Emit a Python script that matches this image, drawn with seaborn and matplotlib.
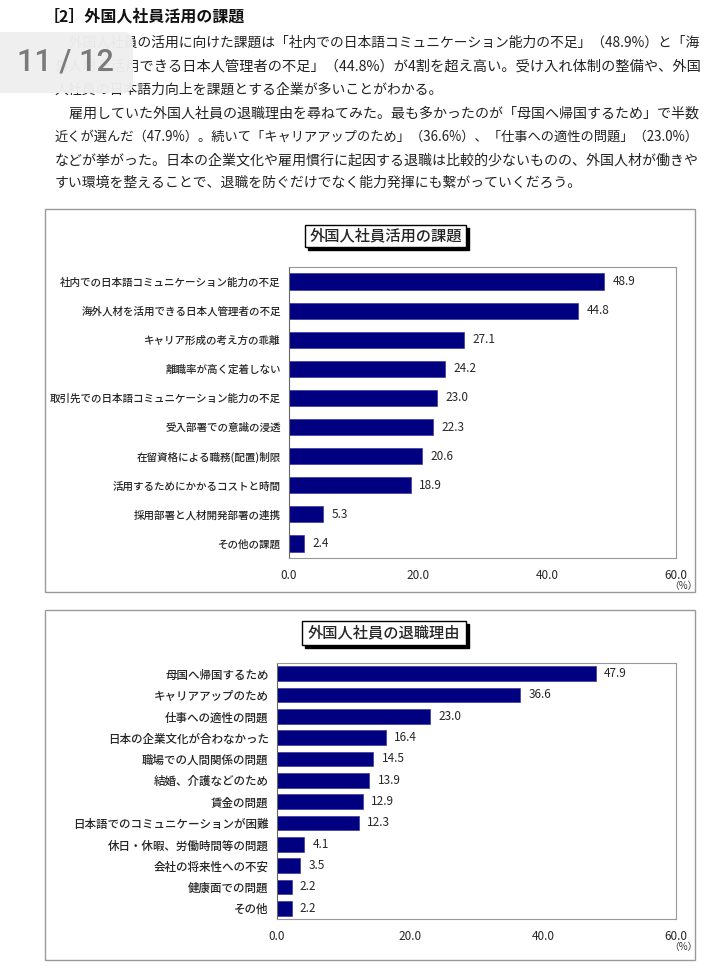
import matplotlib
matplotlib.use("Agg")
import matplotlib.pyplot as plt
import seaborn as sns
import pandas as pd
from matplotlib.patches import Rectangle, FancyBboxPatch

sns.set_theme(style="white")
FONT = ['Noto Sans CJK JP', 'DejaVu Sans']
plt.rcParams['font.family'] = FONT

# ---------------- data ----------------
heading = "［2］外国人社員活用の課題"
para_lines = [
    "　外国人社員の活用に向けた課題は「社内での日本語コミュニケーション能力の不足」（48.9%）と「海",
    "外人材を活用できる日本人管理者の不足」（44.8%）が4割を超え高い。受け入れ体制の整備や、外国",
    "人社員の日本語力向上を課題とする企業が多いことがわかる。",
    "　雇用していた外国人社員の退職理由を尋ねてみた。最も多かったのが「母国へ帰国するため」で半数",
    "近くが選んだ（47.9%）。続いて「キャリアアップのため」（36.6%）、「仕事への適性の問題」（23.0%）",
    "などが挙がった。日本の企業文化や雇用慣行に起因する退職は比較的少ないものの、外国人材が働きや",
    "すい環境を整えることで、退職を防ぐだけでなく能力発揮にも繋がっていくだろう。",
]
full_line = [True, True, False, True, True, True, False]
page_badge = "11 / 12"

title1 = "外国人社員活用の課題"
cats1 = ["社内での日本語コミュニケーション能力の不足", "海外人材を活用できる日本人管理者の不足",
         "キャリア形成の考え方の乖離", "離職率が高く定着しない",
         "取引先での日本語コミュニケーション能力の不足", "受入部署での意識の浸透",
         "在留資格による職務(配置)制限", "活用するためにかかるコストと時間",
         "採用部署と人材開発部署の連携", "その他の課題"]
vals1 = [48.9, 44.8, 27.1, 24.2, 23.0, 22.3, 20.6, 18.9, 5.3, 2.4]

title2 = "外国人社員の退職理由"
cats2 = ["母国へ帰国するため", "キャリアアップのため", "仕事への適性の問題",
         "日本の企業文化が合わなかった", "職場での人間関係の問題", "結婚、介護などのため",
         "賃金の問題", "日本語でのコミュニケーションが困難", "休日・休暇、労働時間等の問題",
         "会社の将来性への不安", "健康面での問題", "その他"]
vals2 = [47.9, 36.6, 23.0, 16.4, 14.5, 13.9, 12.9, 12.3, 4.1, 3.5, 2.2, 2.2]

xticks = [0, 20, 40, 60]
xticklabels = ["0.0", "20.0", "40.0", "60.0"]
unit = "（%）"

W, H = 720, 968
fig = plt.figure(figsize=(W / 100, H / 100), dpi=100)
fig.patch.set_facecolor("white")
renderer = fig.canvas.get_renderer()


def fx(x):
    return x / W


def fy(y):
    return 1 - y / H


# ---------------- page text ----------------
fig.text(fx(44), fy(17), heading, fontsize=11.5, fontweight="bold", va="center", ha="left",
         family=FONT, color="#111111")
line_y = [43, 66.5, 90, 113.5, 137, 160, 183]
TARGET_W = 642
base_fs = 10.4
texts = []
sizes = []
for ly, t, full in zip(line_y, para_lines, full_line):
    tt = fig.text(fx(55), fy(ly), t, fontsize=base_fs, va="center", ha="left",
                  color="#222222", family=FONT, zorder=1)
    if full:
        w = tt.get_window_extent(renderer).width
        fs = base_fs * TARGET_W / w
        tt.set_fontsize(fs)
        sizes.append(fs)
    texts.append((tt, full))
avg_fs = sum(sizes) / len(sizes)
for tt, full in texts:
    if not full:
        tt.set_fontsize(avg_fs)

# page badge overlay
badge = FancyBboxPatch((fx(-20), fy(93)), fx(153), 61 / H,
                       boxstyle="round,pad=0,rounding_size=0.012",
                       transform=fig.transFigure, facecolor="#efefef", edgecolor="none",
                       alpha=0.97, zorder=5)
fig.patches.append(badge)
fig.text(fx(65), fy(62), page_badge, fontsize=22, color="#7a7a7a", ha="center", va="center",
         zorder=6, family=['Roboto', 'DejaVu Sans'], fontweight="medium")


def chart(box, plot, tbox, cats, vals, title, label_fs, bar_w):
    # outer frame
    x0, y0, x1, y1 = box
    fig.patches.append(Rectangle((fx(x0), fy(y1)), fx(x1 - x0), (y1 - y0) / H,
                                 transform=fig.transFigure, facecolor="white",
                                 edgecolor="#9a9a9a", linewidth=1.0, zorder=0.2))
    # title box with shadow
    tx0, ty0, tx1, ty1 = tbox
    fig.patches.append(Rectangle((fx(tx0 + 3), fy(ty1 + 3)), fx(tx1 - tx0), (ty1 - ty0) / H,
                                 transform=fig.transFigure, facecolor="black",
                                 edgecolor="black", linewidth=1, zorder=2))
    fig.patches.append(Rectangle((fx(tx0), fy(ty1)), fx(tx1 - tx0), (ty1 - ty0) / H,
                                 transform=fig.transFigure, facecolor="white",
                                 edgecolor="black", linewidth=1, zorder=2.1))
    fig.text(fx((tx0 + tx1) / 2), fy((ty0 + ty1) / 2), title, fontsize=11,
             ha="center", va="center", zorder=2.2, family=FONT, fontweight="medium")

    px0, py0, px1, py1 = plot
    ax = fig.add_axes([fx(px0), fy(py1), fx(px1 - px0), (py1 - py0) / H])
    ax.set_zorder(1)
    df = pd.DataFrame({"cat": cats, "val": vals})
    sns.barplot(data=df, x="val", y="cat", orient="h", color="#000080",
                saturation=1, width=bar_w, edgecolor="#3a3aa0", linewidth=0.5, ax=ax)
    for c in ax.containers:
        ax.bar_label(c, fmt="%.1f", padding=6, fontsize=8.5, family=FONT)
    ax.set_xlim(0, 60)
    ax.set_ylim(len(cats) - 0.5, -0.5)
    ax.set_xticks(xticks)
    ax.set_xticklabels(xticklabels, fontsize=8.5, family=FONT)
    ax.set_xlabel("")
    ax.set_ylabel("")
    ax.tick_params(axis="y", labelsize=label_fs, length=0, pad=6)
    for lab in ax.get_yticklabels():
        lab.set_family(FONT)
        lab.set_fontweight("medium")
    ax.tick_params(axis="x", direction="in", length=3, color="#999999", pad=8)
    ax.set_yticks([i + 0.5 for i in range(len(cats) - 1)], minor=True)
    ax.tick_params(axis="y", which="minor", direction="out", length=2, color="#aaaaaa")
    for s in ["top", "right", "bottom"]:
        ax.spines[s].set_color("#999999")
        ax.spines[s].set_linewidth(0.8)
    ax.spines["left"].set_color("#666666")
    ax.spines["left"].set_linewidth(0.8)
    ax.set_facecolor("white")
    fig.text(fx(px1 + 7), fy(py1 + 28), unit, fontsize=7, ha="center", va="center",
             color="#333333", family=FONT, zorder=2)
    return ax


chart(box=(45, 209, 695, 592), plot=(289, 267, 676, 558), tbox=(305, 225, 466, 247),
      cats=cats1, vals=vals1, title=title1, label_fs=7.6, bar_w=0.56)
chart(box=(45, 610, 695, 960), plot=(277, 663, 676, 919), tbox=(302, 621, 466, 645),
      cats=cats2, vals=vals2, title=title2, label_fs=8.3, bar_w=0.68)

fig.savefig("out.png", dpi=100, facecolor="white")
